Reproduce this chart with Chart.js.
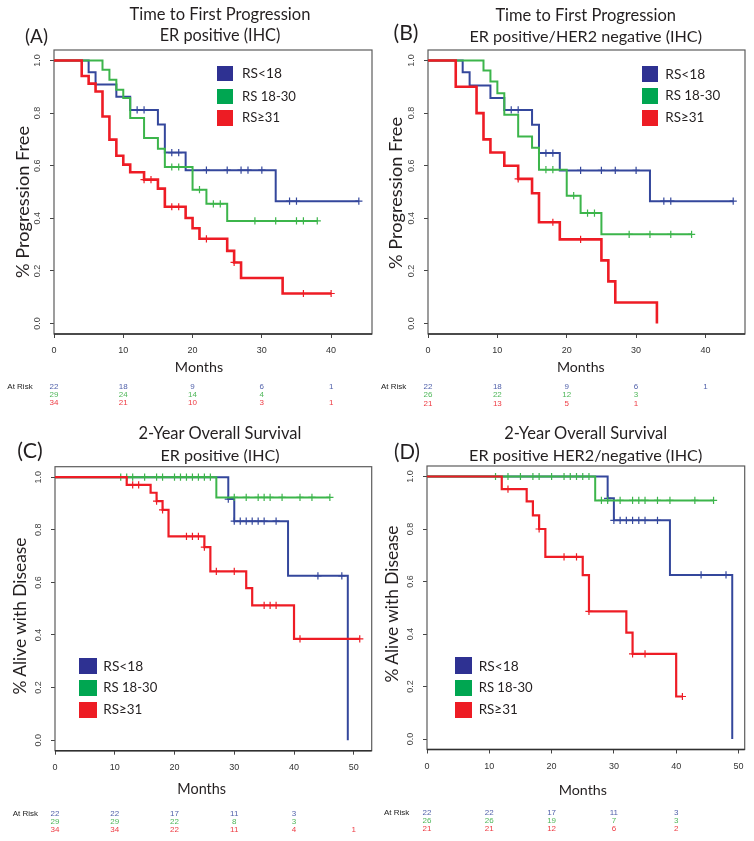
<!DOCTYPE html>
<html><head><meta charset="utf-8">
<script src="https://cdn.jsdelivr.net/npm/chart.js@4.4.1/dist/chart.umd.min.js"></script>
<style>
html,body{margin:0;padding:0;background:#fff;}
#wrap{position:relative;width:754px;height:841px;overflow:hidden;background:#fff;}
canvas{position:absolute;}
.t{position:absolute;white-space:nowrap;line-height:1;font-family:Lato,"Open Sans",sans-serif;color:#231f20;}
.sq{position:absolute;}
</style></head><body>
<div id="wrap">
<canvas id="cA" width="377" height="420" style="left:0;top:0"></canvas>
<canvas id="cB" width="377" height="420" style="left:377px;top:0"></canvas>
<canvas id="cC" width="377" height="421" style="left:0;top:420px"></canvas>
<canvas id="cD" width="377" height="421" style="left:377px;top:420px"></canvas>
</div>
<script>
// ---------- shared ticks / labels ----------
const monthTicks = [0, 10, 20, 30, 40];
const monthTicksOS = [0, 10, 20, 30, 40, 50];
const survTicks = [0, 0.2, 0.4, 0.6, 0.8, 1.0];
const survTickLabels = ['0.0', '0.2', '0.4', '0.6', '0.8', '1.0'];
const groupNames = ['RS<18', 'RS 18-30', 'RS\u226531'];

// ---------- (A) Time to first progression, ER positive ----------
const A_low_t  = [0, 5, 6, 9, 11, 15, 16, 19, 32, 44];
const A_low_s  = [1, 0.955, 0.909, 0.862, 0.812, 0.757, 0.650, 0.583, 0.465, 0.465];
const A_low_c  = [12, 13, 17, 18, 22, 25, 27, 28, 30, 34, 35, 44];
const A_mid_t  = [0, 7, 8, 9, 10, 11, 13, 15, 16, 20, 22, 25, 38];
const A_mid_s  = [1, 0.965, 0.927, 0.889, 0.857, 0.781, 0.705, 0.664, 0.595, 0.509, 0.455, 0.390, 0.390];
const A_mid_c  = [17, 18, 21, 23, 24, 29, 32, 35, 36, 38];
const A_high_t = [0, 4, 5, 6, 7, 8, 9, 10, 11, 13, 15, 16, 19, 20, 21, 25, 26, 27, 33, 40];
const A_high_s = [1, 0.941, 0.912, 0.882, 0.787, 0.699, 0.638, 0.604, 0.575, 0.547, 0.513, 0.444, 0.401, 0.362, 0.322, 0.276, 0.232, 0.173, 0.114, 0.114];
const A_high_c = [13, 14, 17, 18, 22, 26, 36, 40];
const A_risk_low  = [22, 18, 9, 6, 1];
const A_risk_mid  = [29, 24, 14, 4];
const A_risk_high = [34, 21, 10, 3, 1];

// ---------- (B) Time to first progression, ER+/HER2- ----------
const B_low_t  = [0, 5, 6, 9, 11, 15, 16, 19, 32, 44];
const B_low_s  = [1, 0.955, 0.905, 0.857, 0.812, 0.756, 0.648, 0.582, 0.465, 0.465];
const B_low_c  = [12, 13, 17, 18, 22, 25, 27, 30, 34, 35, 44];
const B_mid_t  = [0, 8, 9, 10, 11, 13, 15, 16, 20, 22, 25, 38];
const B_mid_s  = [1, 0.962, 0.920, 0.876, 0.794, 0.711, 0.668, 0.585, 0.486, 0.420, 0.339, 0.339];
const B_mid_c  = [17, 18, 21, 23, 24, 29, 32, 35, 38];
const B_high_t = [0, 4, 7, 8, 9, 11, 13, 15, 16, 19, 25, 26, 27, 33];
const B_high_s = [1, 0.900, 0.800, 0.700, 0.650, 0.600, 0.550, 0.495, 0.385, 0.320, 0.240, 0.160, 0.080, 0];
const B_high_c = [13, 18, 22];
const B_risk_low  = [22, 18, 9, 6, 1];
const B_risk_mid  = [26, 22, 12, 3];
const B_risk_high = [21, 13, 5, 1];

// ---------- (C) 2-year overall survival, ER positive ----------
const C_low_t  = [0, 29, 30, 39, 49];
const C_low_s  = [1, 0.917, 0.833, 0.625, 0];
const C_low_c  = [29, 30, 31, 32, 33, 34, 35, 37, 44, 48];
const C_mid_t  = [0, 27, 46];
const C_mid_s  = [1, 0.923, 0.923];
const C_mid_c  = [11, 12, 13, 15, 17, 18, 20, 21, 22, 23, 24, 25, 26, 30, 32, 34, 35, 36, 38, 41, 43, 46];
const C_high_t = [0, 12, 16, 17, 18, 19, 25, 26, 32, 33, 40, 51];
const C_high_s = [1, 0.971, 0.941, 0.909, 0.876, 0.775, 0.734, 0.642, 0.578, 0.513, 0.385, 0.385];
const C_high_c = [13, 14, 17, 18, 22, 23, 24, 25, 27, 30, 35, 36, 37, 41, 51];
const C_risk_low  = [22, 22, 17, 11, 3];
const C_risk_mid  = [29, 29, 22, 8, 3];
const C_risk_high = [34, 34, 22, 11, 4, 1];

// ---------- (D) 2-year overall survival, ER+/HER2- ----------
const D_low_t  = [0, 29, 30, 39, 49];
const D_low_s  = [1, 0.917, 0.833, 0.625, 0];
const D_low_c  = [29, 30, 31, 32, 33, 34, 35, 37, 44, 48];
const D_mid_t  = [0, 27, 46];
const D_mid_s  = [1, 0.909, 0.909];
const D_mid_c  = [11, 13, 15, 17, 18, 20, 22, 23, 24, 25, 26, 28, 29, 31, 33, 34, 35, 37, 39, 43, 46];
const D_high_t = [0, 12, 16, 17, 18, 19, 25, 26, 32, 33, 40, 41];
const D_high_s = [1, 0.952, 0.905, 0.852, 0.800, 0.694, 0.624, 0.486, 0.405, 0.324, 0.162, 0.162];
const D_high_c = [13, 18, 22, 24, 26, 33, 35, 41];
const D_risk_low  = [22, 22, 17, 11, 3];
const D_risk_mid  = [26, 26, 19, 7, 3];
const D_risk_high = [21, 21, 12, 6, 2];

// ---------- styles ----------
const lineColors = ['#34479c', '#3cb54b', '#ee1c25'];
const boxColors  = ['#2e3192', '#00a651', '#ed1c24'];
const riskColors = ['#5262ab', '#4fb75a', '#ee3b43'];
const tickFont = '"Liberation Sans", Arial, sans-serif';
const textFont = 'Lato, "Open Sans", sans-serif';
Chart.defaults.font.family = tickFont;

function stepAt(ts, ss, t) { let v = ss[0]; for (let i = 0; i < ts.length; i++) if (ts[i] <= t) v = ss[i]; return v; }
function curve(ts, ss) { return ts.map((t, i) => ({ x: t, y: ss[i] })); }
function marks(ts, ss, cs) { return cs.map(c => ({ x: c, y: stepAt(ts, ss, c) })); }

const XAXIS_H = 30;
const panels = [
  { id: 'cA', pad: { left: 54, top: 50, right: 5, bottom: 86 }, xMax: 45.9, xTicks: monthTicks, lw: [2, 2, 2.6],
    groups: [[A_low_t, A_low_s, A_low_c], [A_mid_t, A_mid_s, A_mid_c], [A_high_t, A_high_s, A_high_c]],
    risk: { times: monthTicks, rows: [A_risk_low, A_risk_mid, A_risk_high], y: [386.7, 394.5, 402.7], labelX: 7.3 } },
  { id: 'cB', pad: { left: 51, top: 50, right: 9, bottom: 86 }, xMax: 45.7, xTicks: monthTicks, lw: [2, 2, 2.6],
    groups: [[B_low_t, B_low_s, B_low_c], [B_mid_t, B_mid_s, B_mid_c], [B_high_t, B_high_s, B_high_c]],
    risk: { times: monthTicks, rows: [B_risk_low, B_risk_mid, B_risk_high], y: [386.7, 395, 403.3], labelX: 4 } },
  { id: 'cC', pad: { left: 55, top: 46.7, right: 5.3, bottom: 90.3 }, xMax: 53, xTicks: monthTicksOS, lw: [2, 2, 2.2],
    groups: [[C_low_t, C_low_s, C_low_c], [C_mid_t, C_mid_s, C_mid_c], [C_high_t, C_high_s, C_high_c]],
    risk: { times: monthTicksOS, rows: [C_risk_low, C_risk_mid, C_risk_high], y: [394, 401.8, 410], labelX: 12.7 } },
  { id: 'cD', pad: { left: 50, top: 46, right: 9.3, bottom: 91.5 }, xMax: 51, xTicks: monthTicksOS, lw: [2, 2, 2.2],
    groups: [[D_low_t, D_low_s, D_low_c], [D_mid_t, D_mid_s, D_mid_c], [D_high_t, D_high_s, D_high_c]],
    risk: { times: monthTicksOS, rows: [D_risk_low, D_risk_mid, D_risk_high], y: [392.3, 400.7, 409], labelX: 7 } }
];
const riskById = {};

const kmDecor = {
  id: 'kmDecor',
  beforeDatasetsDraw(chart) {
    const { ctx, chartArea: a } = chart;
    ctx.save();
    ctx.strokeStyle = '#5c5c5c'; ctx.lineWidth = 1.2;
    ctx.strokeRect(a.left, a.top, a.right - a.left, a.bottom - a.top);
    ctx.strokeStyle = '#303030'; ctx.lineWidth = 1.6;
    ctx.beginPath(); ctx.moveTo(a.left, a.bottom); ctx.lineTo(a.right, a.bottom); ctx.stroke();
    const ys = chart.scales.y;
    ctx.fillStyle = '#444'; ctx.font = '9px ' + tickFont;
    ctx.textAlign = 'center'; ctx.textBaseline = 'middle';
    survTicks.forEach((v, i) => {
      ctx.save(); ctx.translate(a.left - 16, ys.getPixelForValue(v)); ctx.rotate(-Math.PI / 2);
      ctx.fillText(survTickLabels[i], 0, 0); ctx.restore();
    });
    ctx.restore();
  },
  afterDraw(chart) {
    const r = riskById[chart.canvas.id]; if (!r) return;
    const { ctx } = chart; const xs = chart.scales.x;
    ctx.save();
    ctx.font = '8px ' + tickFont; ctx.textBaseline = 'middle';
    ctx.fillStyle = '#222'; ctx.textAlign = 'left';
    ctx.fillText('At Risk', r.labelX, r.y[0]);
    ctx.textAlign = 'center';
    r.rows.forEach((row, g) => {
      ctx.fillStyle = riskColors[g];
      row.forEach((n, j) => ctx.fillText(String(n), xs.getPixelForValue(r.times[j]), r.y[g]));
    });
    ctx.restore();
  }
};

panels.forEach(p => {
  riskById[p.id] = p.risk;
  const datasets = [];
  [2, 1, 0].forEach(g => {
    const [ts, ss, cs] = p.groups[g];
    datasets.push({ type: 'scatter', data: marks(ts, ss, cs), showLine: false, pointStyle: 'cross',
      pointRadius: 3.6, pointBorderWidth: 1.2, borderColor: lineColors[g], backgroundColor: lineColors[g] });
    datasets.push({ type: 'line', data: curve(ts, ss), stepped: true, borderColor: lineColors[g],
      borderWidth: p.lw[g], pointRadius: 0, fill: false, tension: 0 });
  });
  const pad = Object.assign({}, p.pad, { bottom: p.pad.bottom - XAXIS_H });
  new Chart(document.getElementById(p.id), {
    type: 'line',
    data: { datasets },
    options: {
      responsive: false, animation: false, devicePixelRatio: 1,
      layout: { padding: pad, autoPadding: false },
      plugins: { legend: { display: false }, tooltip: { enabled: false } },
      events: [],
      scales: {
        x: { type: 'linear', min: 0, max: p.xMax,
          afterBuildTicks: s => { s.ticks = p.xTicks.map(v => ({ value: v })); },
          afterFit: s => { s.height = XAXIS_H; },
          ticks: { font: { size: 9 }, color: '#333', padding: 7.5, maxRotation: 0, autoSkip: false },
          grid: { drawOnChartArea: false, drawTicks: true, tickLength: 4, color: '#444', lineWidth: 1 },
          border: { display: false } },
        y: { type: 'linear', min: -0.04, max: 1.04,
          afterBuildTicks: s => { s.ticks = survTicks.map(v => ({ value: v })); },
          afterFit: s => { s.width = 0; },
          ticks: { display: false },
          grid: { drawOnChartArea: false, drawTicks: true, tickLength: 4, color: '#444', lineWidth: 1 },
          border: { display: false } }
      }
    },
    plugins: [kmDecor]
  });
});

// ---------- HTML text (titles, axis titles, legends) ----------
const texts = [
  { t: '(A)', cx: 36.5, cy: 34.5, w: 23 },
  { t: 'Time to First Progression', cx: 220, cy: 14, w: 181 },
  { t: 'ER positive (IHC)', cx: 220, cy: 34.5, w: 120.7 },
  { t: '% Progression Free', cx: 21.7, cy: 202, w: 152, rot: true },
  { t: 'Months', cx: 199, cy: 366.7, w: 48.3 },
  { t: '(B)', cx: 406, cy: 33, w: 25 },
  { t: 'Time to First Progression', cx: 585.7, cy: 14.5, w: 180.7 },
  { t: 'ER positive/HER2 negative (IHC)', cx: 585.7, cy: 36, w: 232.7 },
  { t: '% Progression Free', cx: 395.3, cy: 193, w: 152, rot: true },
  { t: 'Months', cx: 580.8, cy: 367, w: 47.7 },
  { t: '(C)', cx: 30, cy: 451, w: 25.3 },
  { t: '2-Year Overall Survival', cx: 220, cy: 433.3, w: 163.3 },
  { t: 'ER positive (IHC)', cx: 220, cy: 455, w: 119.3 },
  { t: '% Alive with Disease', cx: 20, cy: 616, w: 158, rot: true },
  { t: 'Months', cx: 201.7, cy: 789.2, w: 48.7 },
  { t: '(D)', cx: 407, cy: 450.7, w: 26 },
  { t: '2-Year Overall Survival', cx: 585.7, cy: 433.3, w: 163.3 },
  { t: 'ER positive HER2/negative (IHC)', cx: 585.7, cy: 455, w: 233.3 },
  { t: '% Alive with Disease', cx: 392, cy: 604, w: 158, rot: true },
  { t: 'Months', cx: 582.8, cy: 789.8, w: 48.3 }
];
const legends = [
  { sqx: 216.7, sqw: 16.6, sqh: 15.3, tx: 242, ys: [73.3, 96.7, 118], ws: [40, 54, 38] },
  { sqx: 642, sqw: 16.3, sqh: 15.5, tx: 665.3, ys: [73.8, 96.2, 118], ws: [40, 55, 39] },
  { sqx: 79.3, sqw: 17.4, sqh: 16.3, tx: 103.3, ys: [665.8, 688, 710.2], ws: [40, 54, 39] },
  { sqx: 455.3, sqw: 16.7, sqh: 16.5, tx: 478.7, ys: [665.7, 688, 710], ws: [40, 54, 39] }
];
const wrap = document.getElementById('wrap');
const mctx = document.createElement('canvas').getContext('2d');
function fit(t, w) { mctx.font = '100px ' + textFont; return 100 * w / mctx.measureText(t).width; }
function addText(t, x, y, size, anchor, rot) {
  const d = document.createElement('div');
  d.className = 't'; d.textContent = t;
  d.style.fontSize = size.toFixed(2) + 'px';
  d.style.left = x + 'px'; d.style.top = y + 'px';
  d.style.transform = anchor === 'left' ? 'translate(0,-50%)' : ('translate(-50%,-50%)' + (rot ? ' rotate(-90deg)' : ''));
  wrap.appendChild(d);
}
texts.forEach(o => addText(o.t, o.cx, o.cy, fit(o.t, o.w), 'center', o.rot));
legends.forEach(L => {
  L.ys.forEach((y, g) => {
    const s = document.createElement('div');
    s.className = 'sq';
    s.style.left = L.sqx + 'px'; s.style.top = (y - L.sqh / 2) + 'px';
    s.style.width = L.sqw + 'px'; s.style.height = L.sqh + 'px';
    s.style.background = boxColors[g];
    wrap.appendChild(s);
    addText(groupNames[g], L.tx, y, fit(groupNames[g], L.ws[g]), 'left');
  });
});
</script>
</body></html>
